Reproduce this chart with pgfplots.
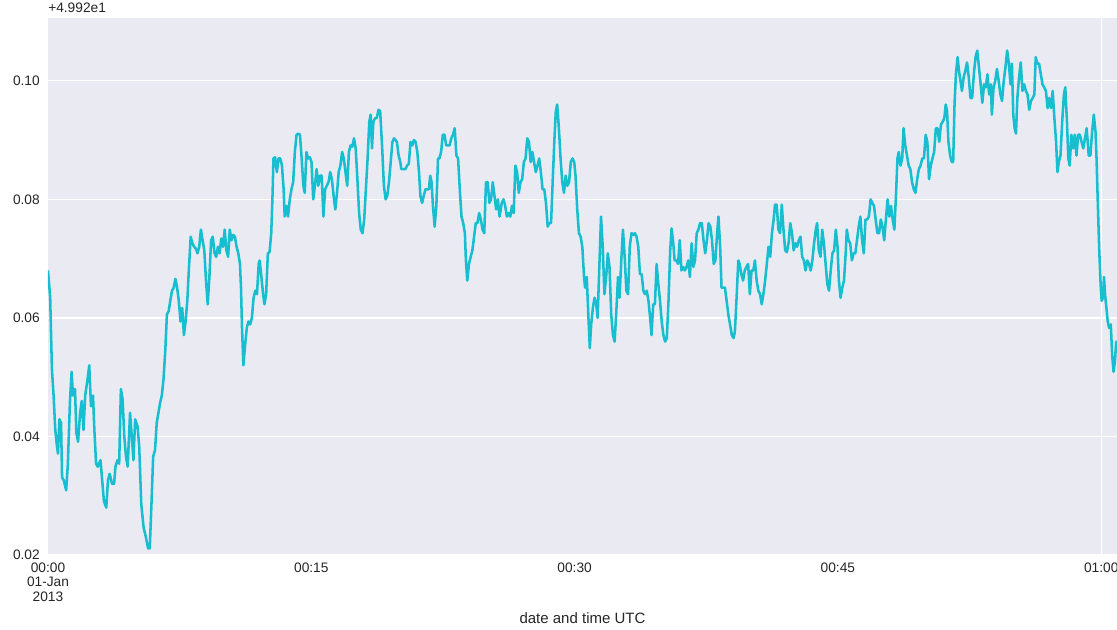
\documentclass[border=0pt]{standalone}
\usepackage{fontspec}
\setmainfont{Liberation Sans}
\usepackage{pgfplots}
\pgfplotsset{compat=1.18}
\definecolor{bgc}{RGB}{234,234,242}
\definecolor{linec}{RGB}{23,190,207}
\definecolor{txt}{RGB}{38,38,38}
\begin{document}
\begin{tikzpicture}
\path[use as bounding box] (-36pt,-55.5pt) rectangle (801.75pt,416.25pt);
\begin{axis}[
 at={(0,0)}, anchor=south west,
 scale only axis, width=801.75pt, height=402.75pt,
 xmin=0, xmax=60.9, ymin=0.02, ymax=0.1106,
 axis line style={draw=none},
 axis background/.style={fill=bgc},
 major tick length=0pt, minor tick length=0pt,
 ytick={0.02,0.04,0.06,0.08,0.10},
 yticklabels={0.02,0.04,0.06,0.08,0.10},
 xtick={0,15,30,45,60},
 xticklabels={{00:00\\01-Jan\\2013},00:15,00:30,00:45,01:00},
 ymajorgrids, xmajorgrids=false,
 extra x ticks={60}, extra x tick labels={}, extra x tick style={grid=major},
 grid style={white, line width=0.9pt},
 tick label style={font=\fontsize{10.3}{11}\selectfont, text=txt},
 yticklabel style={anchor=east, inner sep=0pt, xshift=-6pt},
 xticklabel style={anchor=north, inner sep=0pt, yshift=-5.5pt, align=center},
 clip mode=individual,
]
\addplot[color=linec, line width=1.9pt, line join=round, no markers] table {
x y
0 0.068
0.125 0.0634
0.222 0.0514
0.318 0.0469
0.415 0.0411
0.512 0.0383
0.570 0.0371
0.648 0.0429
0.744 0.0423
0.802 0.0331
0.899 0.0326
1.035 0.0309
1.132 0.0354
1.248 0.0457
1.345 0.0509
1.422 0.0469
1.538 0.048
1.616 0.0406
1.712 0.0391
1.829 0.044
1.925 0.046
2.022 0.0411
2.119 0.0469
2.255 0.0497
2.351 0.052
2.448 0.0451
2.564 0.0469
2.642 0.0411
2.739 0.0354
2.835 0.0349
2.990 0.036
3.087 0.0326
3.184 0.0291
3.319 0.028
3.416 0.0326
3.513 0.0337
3.648 0.032
3.765 0.032
3.842 0.0349
3.958 0.036
4.055 0.0354
4.152 0.048
4.249 0.0463
4.346 0.04
4.442 0.0366
4.539 0.0349
4.675 0.044
4.772 0.04
4.868 0.036
4.965 0.0429
5.101 0.0417
5.197 0.0383
5.313 0.0286
5.449 0.0246
5.585 0.0229
5.701 0.0211
5.798 0.0211
5.894 0.0286
5.991 0.0366
6.097 0.0377
6.194 0.0423
6.291 0.044
6.387 0.0457
6.484 0.0469
6.581 0.0497
6.678 0.0543
6.775 0.0606
6.871 0.0611
6.968 0.0629
7.065 0.0646
7.162 0.0651
7.259 0.0666
7.355 0.0651
7.452 0.0629
7.549 0.0594
7.646 0.0617
7.743 0.0571
7.840 0.0594
7.936 0.0629
8.033 0.0686
8.130 0.0737
8.227 0.0726
8.324 0.072
8.420 0.0717
8.517 0.0709
8.614 0.072
8.711 0.0749
8.808 0.0731
8.904 0.0714
9.001 0.0663
9.098 0.0623
9.195 0.0669
9.292 0.0731
9.388 0.0737
9.485 0.0709
9.582 0.0703
9.679 0.072
9.776 0.0709
9.872 0.0734
9.969 0.072
10.066 0.0749
10.163 0.0714
10.260 0.0703
10.356 0.0749
10.453 0.0731
10.550 0.074
10.647 0.0737
10.744 0.072
10.840 0.0709
10.937 0.0691
10.995 0.0651
11.053 0.0583
11.131 0.052
11.228 0.0554
11.324 0.0583
11.421 0.0594
11.518 0.0589
11.615 0.06
11.712 0.0634
11.808 0.0646
11.905 0.064
12.002 0.0691
12.060 0.0697
12.157 0.0669
12.254 0.064
12.331 0.0623
12.428 0.064
12.525 0.0709
12.622 0.0711
12.718 0.0743
12.796 0.0811
12.844 0.0869
12.940 0.0871
13.037 0.0846
13.134 0.0869
13.231 0.0869
13.328 0.0857
13.424 0.0817
13.483 0.0771
13.579 0.0789
13.676 0.0771
13.773 0.08
13.870 0.0817
13.967 0.0829
14.063 0.088
14.160 0.0909
14.257 0.0911
14.354 0.0909
14.451 0.0869
14.547 0.0823
14.625 0.0811
14.722 0.088
14.818 0.0869
14.915 0.0871
15.012 0.0863
15.109 0.08
15.206 0.0823
15.302 0.0851
15.399 0.0823
15.496 0.084
15.593 0.084
15.690 0.0771
15.786 0.0817
15.883 0.0823
15.980 0.0829
16.077 0.0846
16.174 0.0834
16.270 0.0806
16.367 0.0783
16.464 0.0811
16.561 0.0846
16.658 0.0857
16.755 0.088
16.851 0.0869
16.948 0.0846
17.045 0.0823
17.142 0.088
17.239 0.0891
17.335 0.0889
17.432 0.0903
17.529 0.0886
17.626 0.0834
17.723 0.0777
17.819 0.0749
17.916 0.0743
18.013 0.0766
18.110 0.0817
18.207 0.0869
18.303 0.0931
18.381 0.0943
18.458 0.0886
18.536 0.0931
18.633 0.0937
18.729 0.0937
18.826 0.0951
18.923 0.0949
19.039 0.0886
19.136 0.0823
19.233 0.08
19.330 0.0806
19.426 0.0829
19.523 0.0863
19.620 0.0897
19.717 0.0903
19.878 0.0897
19.974 0.0874
20.071 0.0863
20.129 0.0851
20.265 0.0851
20.362 0.0851
20.458 0.0857
20.555 0.086
20.652 0.0897
20.749 0.0891
20.846 0.09
20.942 0.0897
21.039 0.088
21.136 0.0846
21.214 0.0806
21.310 0.0794
21.407 0.0806
21.504 0.0817
21.601 0.0817
21.698 0.0817
21.775 0.084
21.852 0.0829
21.930 0.0789
22.027 0.0754
22.124 0.0789
22.220 0.0869
22.298 0.0869
22.395 0.088
22.491 0.0909
22.588 0.0909
22.685 0.0891
22.782 0.0891
22.879 0.0891
22.975 0.0903
23.072 0.0909
23.169 0.092
23.266 0.0874
23.363 0.0869
23.459 0.0817
23.556 0.0771
23.653 0.076
23.750 0.0743
23.808 0.0697
23.885 0.0663
23.982 0.0691
24.079 0.0703
24.176 0.0714
24.273 0.0737
24.369 0.076
24.466 0.076
24.563 0.0777
24.660 0.0766
24.757 0.0749
24.853 0.0743
24.950 0.0829
25.047 0.0829
25.144 0.0794
25.241 0.08
25.337 0.0829
25.434 0.0806
25.531 0.0783
25.628 0.08
25.725 0.0771
25.852 0.0794
25.949 0.08
26.045 0.0789
26.142 0.0771
26.239 0.0777
26.336 0.0771
26.433 0.0789
26.529 0.0777
26.626 0.0857
26.723 0.0846
26.820 0.0811
26.917 0.0829
27.013 0.0834
27.110 0.0863
27.207 0.0869
27.304 0.0903
27.401 0.0897
27.497 0.0863
27.594 0.088
27.691 0.0863
27.788 0.0846
27.885 0.0857
27.982 0.0869
28.078 0.0846
28.175 0.0817
28.272 0.0817
28.369 0.0794
28.466 0.0754
28.562 0.076
28.659 0.076
28.756 0.0834
28.853 0.0903
28.930 0.0949
29.008 0.096
29.104 0.092
29.201 0.0869
29.298 0.0829
29.395 0.0811
29.492 0.084
29.588 0.0823
29.685 0.0829
29.782 0.0863
29.879 0.0869
29.976 0.0863
30.053 0.084
30.150 0.0783
30.247 0.0743
30.344 0.0737
30.440 0.072
30.537 0.0669
30.595 0.0651
30.692 0.0669
30.789 0.06
30.866 0.0549
30.944 0.0589
31.041 0.0617
31.137 0.0634
31.234 0.0623
31.312 0.06
31.408 0.0686
31.505 0.0771
31.602 0.072
31.699 0.064
31.796 0.0669
31.892 0.0709
31.989 0.0686
32.086 0.0606
32.183 0.0571
32.280 0.056
32.377 0.0611
32.473 0.0669
32.562 0.0634
32.658 0.0697
32.755 0.0749
32.852 0.0703
32.949 0.0646
33.046 0.064
33.143 0.072
33.239 0.0743
33.336 0.074
33.433 0.0743
33.530 0.0737
33.627 0.072
33.723 0.0674
33.820 0.0674
33.917 0.0646
34.014 0.064
34.111 0.0646
34.207 0.0629
34.304 0.06
34.382 0.0571
34.478 0.0623
34.575 0.0623
34.672 0.0691
34.769 0.0657
34.866 0.0629
34.962 0.0594
35.059 0.0571
35.156 0.056
35.253 0.0566
35.350 0.0629
35.446 0.0714
35.524 0.0751
35.621 0.0726
35.698 0.0697
35.795 0.0697
35.892 0.0691
35.989 0.0731
36.085 0.068
36.182 0.0686
36.279 0.068
36.376 0.0686
36.473 0.0697
36.569 0.0669
36.666 0.0726
36.763 0.0686
36.860 0.0697
36.957 0.0743
37.053 0.0749
37.150 0.076
37.247 0.076
37.344 0.0731
37.441 0.0709
37.537 0.0731
37.634 0.076
37.731 0.0754
37.828 0.0731
37.925 0.0691
38.021 0.0697
38.118 0.0743
38.196 0.0771
38.292 0.072
38.370 0.0651
38.467 0.0651
38.564 0.0651
38.660 0.0629
38.757 0.0606
38.957 0.0571
39.054 0.0566
39.131 0.0577
39.228 0.0634
39.325 0.0697
39.402 0.0691
39.499 0.0674
39.596 0.0663
39.693 0.068
39.789 0.0686
39.886 0.0691
39.983 0.064
40.080 0.068
40.177 0.068
40.273 0.0697
40.370 0.0663
40.467 0.0646
40.564 0.064
40.661 0.0623
40.757 0.064
40.854 0.0663
40.951 0.0691
41.048 0.072
41.145 0.0703
41.241 0.0743
41.338 0.0766
41.416 0.0791
41.512 0.0791
41.609 0.0749
41.706 0.0743
41.803 0.0791
41.900 0.0749
41.996 0.0714
42.093 0.0711
42.190 0.0726
42.287 0.076
42.384 0.0743
42.480 0.0714
42.577 0.0726
42.674 0.072
42.771 0.0731
42.868 0.0737
42.965 0.0703
43.061 0.0697
43.158 0.068
43.255 0.0697
43.352 0.0691
43.449 0.068
43.545 0.0697
43.642 0.0726
43.739 0.0749
43.816 0.076
43.913 0.0714
44.010 0.0703
44.107 0.0749
44.204 0.0726
44.300 0.0691
44.397 0.0657
44.494 0.0646
44.591 0.068
44.688 0.0709
44.784 0.0714
44.881 0.0749
44.978 0.072
45.056 0.0663
45.152 0.0634
45.249 0.0651
45.346 0.0663
45.443 0.0709
45.507 0.0749
45.604 0.0731
45.700 0.0726
45.797 0.0697
45.894 0.0709
45.991 0.0709
46.088 0.0731
46.184 0.0754
46.281 0.0771
46.378 0.0731
46.475 0.0709
46.572 0.0766
46.668 0.0766
46.765 0.0771
46.862 0.08
46.959 0.0794
47.056 0.0789
47.152 0.0766
47.249 0.0743
47.346 0.0743
47.443 0.0766
47.540 0.0754
47.637 0.0731
47.733 0.0766
47.830 0.08
47.927 0.0771
48.024 0.0789
48.121 0.0766
48.217 0.0749
48.314 0.0811
48.392 0.0869
48.469 0.088
48.566 0.0857
48.663 0.0869
48.740 0.092
48.837 0.0891
48.934 0.0874
49.031 0.0857
49.127 0.0851
49.224 0.0829
49.321 0.0817
49.418 0.0811
49.515 0.0834
49.611 0.0851
49.708 0.0857
49.805 0.0869
49.902 0.0869
49.999 0.0909
50.095 0.0897
50.192 0.0834
50.289 0.0857
50.386 0.0869
50.483 0.088
50.579 0.092
50.676 0.092
50.773 0.0897
50.870 0.0926
50.967 0.0931
51.063 0.0937
51.141 0.096
51.218 0.0949
51.296 0.0897
51.393 0.0874
51.489 0.0863
51.567 0.0863
51.644 0.096
51.722 0.1011
51.819 0.104
51.896 0.1017
52.067 0.0983
52.164 0.1006
52.260 0.1017
52.357 0.1031
52.454 0.1006
52.551 0.0971
52.648 0.0971
52.744 0.1011
52.841 0.104
52.938 0.1051
53.035 0.1023
53.132 0.0994
53.228 0.0963
53.325 0.0994
53.422 0.0989
53.519 0.1011
53.616 0.0977
53.712 0.0994
53.771 0.0943
53.867 0.0989
53.964 0.10
54.061 0.102
54.158 0.10
54.255 0.0977
54.351 0.0966
54.448 0.10
54.545 0.1023
54.642 0.1051
54.739 0.1029
54.835 0.0994
54.913 0.1029
54.990 0.0943
55.068 0.092
55.145 0.0911
55.223 0.0971
55.319 0.1006
55.416 0.1031
55.513 0.0983
55.610 0.0994
55.707 0.0983
55.803 0.0977
55.900 0.0951
55.997 0.0966
56.094 0.0971
56.191 0.0977
56.268 0.104
56.365 0.1029
56.462 0.1029
56.559 0.1011
56.655 0.0994
56.752 0.0989
56.849 0.0983
56.946 0.0954
57.043 0.0971
57.139 0.0954
57.236 0.0983
57.333 0.0937
57.430 0.0897
57.507 0.0846
57.585 0.0863
57.681 0.0874
57.778 0.0931
57.875 0.0977
57.953 0.0989
58.049 0.0931
58.127 0.0869
58.204 0.0857
58.301 0.0909
58.398 0.0886
58.495 0.0909
58.591 0.0874
58.688 0.0909
58.785 0.0909
58.882 0.0897
58.979 0.0886
59.075 0.0903
59.172 0.092
59.288 0.0874
59.385 0.0874
59.482 0.0914
59.579 0.0943
59.675 0.0914
59.734 0.0869
59.811 0.0789
59.888 0.0714
59.966 0.0657
60.024 0.0629
60.101 0.0634
60.159 0.0669
60.218 0.064
60.295 0.0617
60.372 0.0594
60.450 0.0583
60.547 0.0589
60.624 0.0537
60.702 0.0509
60.779 0.0526
60.856 0.056
60.9 0.0555
};
\node[anchor=base west, inner sep=0pt, font=\fontsize{10.3}{11}\selectfont, text=txt] at (axis description cs:0,1) [yshift=3.75pt] {+4.992e1};
\node[anchor=north, inner sep=0pt, font=\fontsize{11.25}{13}\selectfont, text=txt] at (axis description cs:0.5,0) [yshift=-43pt] {date and time UTC};
\end{axis}
\end{tikzpicture}
\end{document}
